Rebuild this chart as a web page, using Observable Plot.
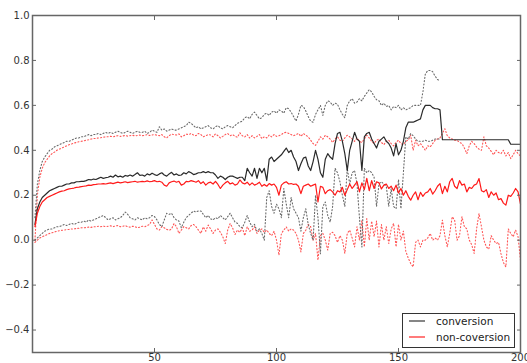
<!DOCTYPE html>
<html>
<head>
<meta charset="utf-8">
<script src="https://cdn.jsdelivr.net/npm/d3@7"></script>
<script src="https://cdn.jsdelivr.net/npm/@observablehq/plot@0.6"></script>
<style>
  html, body { margin: 0; padding: 0; background: #fff; }
  #wrap { position: relative; width: 527px; height: 363px; overflow: hidden; }
  #legend { position: absolute; left: 402px; top: 313px; width: 111px; height: 33px;
    border: 1px solid #333; background: #fff; font-family: "DejaVu Sans", sans-serif; font-size: 10.5px; color: #222; }
  #legend .row { position: absolute; left: 0; height: 14px; display: flex; align-items: center; white-space: nowrap; }
  #legend svg { margin-left: 6px; margin-right: 11px; }
</style>
</head>
<body>
<div id="wrap"><div id="legend"></div></div>
<script>
// x runs 1..N for each series
const xTicks = [50, 100, 150, 200];
const yTicks = [-0.4, -0.2, 0.0, 0.2, 0.4, 0.6, 0.8, 1.0];
const seriesNames = ["conversion", "non-coversion"];

const convMean = [
  0.07, 0.14, 0.17, 0.19, 0.20, 0.21, 0.22, 0.225, 0.23, 0.235,
  0.24, 0.24, 0.245, 0.25, 0.25, 0.255, 0.255, 0.26, 0.26, 0.262,
  0.262, 0.265, 0.27, 0.268, 0.272, 0.27, 0.275, 0.28, 0.275, 0.278,
  0.28, 0.285, 0.28, 0.29, 0.282, 0.285, 0.28, 0.288, 0.285, 0.29,
  0.285, 0.292, 0.3, 0.288, 0.29, 0.285, 0.295, 0.29, 0.298, 0.292,
  0.288, 0.295, 0.3, 0.29, 0.285, 0.295, 0.302, 0.29, 0.295, 0.288,
  0.29, 0.3, 0.295, 0.305, 0.3, 0.292, 0.295, 0.3, 0.3, 0.305,
  0.3, 0.305, 0.3, 0.3, 0.29, 0.275, 0.285, 0.28, 0.27, 0.28,
  0.285, 0.285, 0.28, 0.275, 0.28, 0.28, 0.265, 0.32, 0.3, 0.285,
  0.32, 0.275, 0.32, 0.3, 0.32, 0.265, 0.36, 0.37, 0.35, 0.36,
  0.37, 0.38, 0.395, 0.41, 0.39, 0.4, 0.37, 0.35, 0.31, 0.34,
  0.365, 0.37, 0.33, 0.31, 0.35, 0.40, 0.36, 0.3, 0.28, 0.36,
  0.385, 0.37, 0.36, 0.43, 0.475, 0.48, 0.44, 0.385, 0.31, 0.40,
  0.44, 0.48, 0.45, 0.44, 0.31, 0.46, 0.475, 0.48, 0.45, 0.43,
  0.41, 0.44, 0.45, 0.46, 0.44, 0.43, 0.41, 0.375, 0.43, 0.38,
  0.40, 0.44, 0.50, 0.525, 0.525, 0.525, 0.53, 0.535, 0.54, 0.58,
  0.6, 0.6, 0.6, 0.59, 0.585, 0.585, 0.58, 0.447, 0.447, 0.447,
  0.447, 0.447, 0.447, 0.447, 0.447, 0.447, 0.447, 0.447, 0.447, 0.447,
  0.447, 0.447, 0.447, 0.447, 0.447, 0.447, 0.447, 0.447, 0.447, 0.447,
  0.447, 0.447, 0.447, 0.447, 0.447, 0.427, 0.427, 0.427, 0.427, 0.427
];

const convUpper = [
  0.10, 0.25, 0.31, 0.35, 0.37, 0.385, 0.40, 0.405, 0.415, 0.42,
  0.425, 0.43, 0.435, 0.44, 0.44, 0.445, 0.45, 0.455, 0.455, 0.46,
  0.46, 0.465, 0.47, 0.465, 0.47, 0.47, 0.475, 0.47, 0.475, 0.48,
  0.475, 0.48, 0.475, 0.48, 0.485, 0.48, 0.475, 0.48, 0.485, 0.48,
  0.475, 0.48, 0.485, 0.48, 0.48, 0.485, 0.475, 0.48, 0.49, 0.485,
  0.48, 0.505, 0.49, 0.495, 0.485, 0.49, 0.495, 0.49, 0.49, 0.495,
  0.5, 0.505, 0.51, 0.525, 0.52, 0.51, 0.5, 0.505, 0.495, 0.5,
  0.505, 0.51, 0.5, 0.495, 0.505, 0.51, 0.5, 0.495, 0.505, 0.51,
  0.505, 0.5, 0.51, 0.52, 0.525, 0.53, 0.545, 0.55, 0.54, 0.56,
  0.57, 0.555, 0.54, 0.545, 0.56, 0.565, 0.555, 0.57, 0.575, 0.565,
  0.58, 0.575, 0.565, 0.59, 0.585, 0.57, 0.55, 0.53, 0.56, 0.6,
  0.595, 0.575, 0.55, 0.53, 0.525, 0.56, 0.58, 0.6, 0.555, 0.6,
  0.62, 0.615, 0.6, 0.61, 0.605, 0.58, 0.56, 0.545, 0.6, 0.62,
  0.63, 0.61, 0.615, 0.63, 0.62, 0.64, 0.655, 0.67, 0.66, 0.64,
  0.625, 0.62, 0.6, 0.61, 0.595, 0.6, 0.58, 0.595, 0.59, 0.6,
  0.58, 0.59, 0.58, 0.585, 0.59, 0.6, 0.6, 0.6, 0.6, 0.66,
  0.74, 0.755, 0.755, 0.75, 0.73, 0.715, 0.71
];

const convLower = [
  0.0, 0.01, 0.02, 0.03, 0.04, 0.045, 0.05, 0.05, 0.055, 0.06,
  0.06, 0.065, 0.07, 0.065, 0.07, 0.075, 0.07, 0.075, 0.08, 0.08,
  0.085, 0.08, 0.09, 0.085, 0.09, 0.095, 0.1, 0.105, 0.11, 0.1,
  0.09, 0.095, 0.1, 0.09, 0.095, 0.1, 0.11, 0.125, 0.115, 0.1,
  0.095, 0.09, 0.1, 0.095, 0.09, 0.1, 0.095, 0.1, 0.11, 0.105,
  0.09, 0.07, 0.06, 0.09, 0.12, 0.115, 0.12, 0.1, 0.09, 0.085,
  0.055, 0.08, 0.1, 0.11, 0.12, 0.13, 0.125, 0.13, 0.13, 0.115,
  0.1, 0.11, 0.095, 0.09, 0.1, 0.095, 0.11, 0.1, 0.09, 0.105,
  0.12, 0.1, 0.08, 0.075, 0.06, 0.055, 0.08, 0.11, 0.08, 0.06,
  0.07, 0.04, 0.05, 0.03, 0.0, 0.19, 0.22, 0.15, 0.12, 0.16,
  0.14, 0.1, 0.23, 0.16, 0.1, 0.19, 0.14, 0.12, 0.1, 0.04,
  0.1, 0.14, 0.07, 0.03, 0.0, 0.2, 0.1, -0.06, 0.15, 0.17,
  0.11, 0.08, 0.15, 0.32, 0.3, 0.26, 0.2, 0.15, 0.32, 0.25,
  0.3, 0.31, 0.25, 0.1, -0.03, 0.32, 0.3, 0.31, 0.3, 0.28,
  0.15, 0.25, 0.26, 0.25, 0.24, 0.15, 0.23, 0.15, 0.14, 0.27,
  0.14, 0.3, 0.46, 0.45, 0.475, 0.465, 0.45, 0.44, 0.44, 0.44,
  0.445, 0.44, 0.44, 0.445, 0.45, 0.45, 0.45
];

const nonMean = [
  0.06, 0.12, 0.15, 0.17, 0.18, 0.19, 0.195, 0.2, 0.205, 0.21,
  0.215, 0.218, 0.22, 0.225, 0.228, 0.23, 0.232, 0.235, 0.236, 0.238,
  0.24, 0.242, 0.245, 0.244, 0.247, 0.248, 0.25, 0.25, 0.252, 0.25,
  0.253, 0.255, 0.252, 0.255, 0.258, 0.255, 0.257, 0.26, 0.256, 0.258,
  0.26, 0.262, 0.258, 0.26, 0.262, 0.26, 0.264, 0.26, 0.262, 0.265,
  0.26, 0.262, 0.258, 0.245, 0.24, 0.255, 0.26, 0.263, 0.258, 0.262,
  0.245, 0.25, 0.262, 0.26, 0.265, 0.262, 0.258, 0.265, 0.252, 0.26,
  0.245, 0.255, 0.258, 0.25, 0.262, 0.248, 0.23, 0.245, 0.255, 0.262,
  0.25, 0.255, 0.245, 0.25, 0.268, 0.255, 0.25, 0.258, 0.245, 0.255,
  0.245, 0.25, 0.258, 0.24, 0.248, 0.24, 0.252, 0.245, 0.25, 0.235,
  0.2, 0.245, 0.255, 0.26, 0.25, 0.252, 0.248, 0.25, 0.24, 0.207,
  0.24, 0.245, 0.25, 0.24, 0.245, 0.25, 0.17, 0.24, 0.235, 0.207,
  0.22, 0.225, 0.215, 0.2, 0.22, 0.215, 0.235, 0.2, 0.225, 0.25,
  0.23, 0.245, 0.26, 0.215, 0.255, 0.225, 0.275, 0.22, 0.265, 0.23,
  0.26, 0.255, 0.228, 0.245, 0.25, 0.23, 0.24, 0.22, 0.245, 0.21,
  0.23, 0.2, 0.22, 0.195, 0.178, 0.2, 0.215, 0.18, 0.213, 0.195,
  0.21, 0.215, 0.23, 0.205, 0.22, 0.24, 0.252, 0.207, 0.24, 0.215,
  0.26, 0.275, 0.24, 0.23, 0.265, 0.245, 0.25, 0.215, 0.235, 0.23,
  0.245, 0.25, 0.274, 0.22, 0.215, 0.225, 0.19, 0.215, 0.2, 0.21,
  0.18, 0.185, 0.165, 0.156, 0.2, 0.195, 0.21, 0.23, 0.215, 0.16
];

const nonUpper = [
  0.0, 0.2, 0.28, 0.32, 0.345, 0.36, 0.375, 0.385, 0.392, 0.4,
  0.405, 0.41, 0.415, 0.42, 0.425, 0.428, 0.432, 0.435, 0.438, 0.44,
  0.442, 0.445, 0.447, 0.45, 0.452, 0.453, 0.455, 0.456, 0.458, 0.46,
  0.46, 0.462, 0.46, 0.463, 0.465, 0.462, 0.464, 0.466, 0.463, 0.465,
  0.467, 0.464, 0.466, 0.468, 0.465, 0.467, 0.47, 0.466, 0.468, 0.47,
  0.467, 0.465, 0.47, 0.46, 0.455, 0.465, 0.472, 0.47, 0.468, 0.473,
  0.46, 0.465, 0.472, 0.47, 0.475, 0.468, 0.465, 0.475, 0.47, 0.46,
  0.465, 0.47, 0.468, 0.46, 0.473, 0.465, 0.455, 0.462, 0.47, 0.475,
  0.465, 0.47, 0.462, 0.458, 0.478, 0.465, 0.46, 0.47, 0.455, 0.465,
  0.455, 0.462, 0.47, 0.452, 0.46, 0.455, 0.468, 0.46, 0.47, 0.462,
  0.465, 0.47, 0.478, 0.48, 0.475, 0.47, 0.465, 0.47, 0.475, 0.462,
  0.475, 0.467, 0.46, 0.445, 0.43, 0.422, 0.44, 0.46, 0.45, 0.467,
  0.46, 0.45, 0.435, 0.45, 0.46, 0.445, 0.44, 0.455, 0.467, 0.46,
  0.45, 0.44, 0.455, 0.44, 0.435, 0.45, 0.467, 0.455, 0.44, 0.43,
  0.445, 0.45, 0.435, 0.425, 0.44, 0.445, 0.43, 0.42, 0.435, 0.445,
  0.43, 0.425, 0.44, 0.445, 0.467, 0.4, 0.445, 0.42, 0.43, 0.415,
  0.4, 0.42, 0.415, 0.43, 0.445, 0.45, 0.455, 0.475, 0.496, 0.465,
  0.455, 0.45, 0.445, 0.445, 0.435, 0.43, 0.41, 0.385, 0.42, 0.44,
  0.43, 0.415, 0.405, 0.4, 0.46, 0.42, 0.41, 0.395, 0.38, 0.4,
  0.39, 0.385, 0.4, 0.375, 0.39, 0.363, 0.38, 0.4, 0.385, 0.375
];

const nonLower = [
  -0.01, 0.0, 0.01, 0.015, 0.02, 0.025, 0.03, 0.033, 0.036, 0.04,
  0.042, 0.044, 0.045, 0.047, 0.048, 0.05, 0.05, 0.052, 0.053, 0.055,
  0.055, 0.056, 0.058, 0.057, 0.06, 0.06, 0.062, 0.06, 0.063, 0.06,
  0.062, 0.064, 0.06, 0.063, 0.065, 0.06, 0.062, 0.065, 0.06, 0.058,
  0.062, 0.06, 0.055, 0.058, 0.062, 0.06, 0.065, 0.07, 0.09, 0.07,
  0.05, 0.045, 0.06, 0.055, 0.048, 0.044, 0.05, 0.074, 0.06, 0.03,
  0.045, 0.06, 0.055, 0.05, 0.065, 0.07, 0.06, 0.045, 0.03, 0.059,
  0.04, 0.067, 0.05, 0.03, 0.045, 0.05, 0.035, 0.015, -0.015, 0.045,
  0.074, 0.055, 0.025, 0.045, 0.035, 0.055, 0.02, 0.06, 0.04, 0.045,
  0.06, 0.03, 0.045, 0.05, 0.035, 0.045, 0.03, 0.02, 0.04, 0.0,
  -0.067, 0.03, 0.045, 0.059, 0.04, 0.05, 0.045, 0.03, 0.0, -0.052,
  0.03, 0.044, 0.07, 0.06, 0.0, 0.03, -0.089, 0.02, 0.03, 0.0,
  -0.044, 0.03, 0.035, 0.02, -0.01, 0.02, 0.0, -0.059, 0.03, 0.045,
  0.01, -0.03, 0.06, 0.0, 0.089, -0.03, 0.096, 0.0, 0.085, 0.015,
  0.085, -0.03, 0.07, 0.0, 0.06, -0.015, 0.05, 0.075, -0.03, 0.07,
  0.0, 0.04, -0.05, -0.08, -0.104, -0.119, -0.01, 0.0, -0.03, 0.0,
  0.0, 0.01, 0.03, 0.0, 0.01, 0.0, 0.02, 0.089, 0.02, -0.03,
  0.03, 0.104, 0.09, 0.0, 0.02, 0.104, 0.06, 0.05, 0.0, -0.02,
  -0.059, 0.05, 0.119, 0.06, 0.0, -0.03, -0.04, 0.02, 0.0, -0.015,
  -0.01, -0.06, -0.1, -0.119, 0.05, 0.03, 0.015, 0.045, 0.015, -0.09
];

const toRows = arr => arr.map((v, i) => ({x: i + 1, y: v}));

const blackSolid = "#2a2a2a", blackDot = "#6a6a6a";
const redSolid = "#ff1a1a", redDot = "#ff5555";
const dotted = "1.1,2.2";

const chart = Plot.plot({
  width: 527, height: 363,
  marginLeft: 32, marginTop: 15, marginRight: 7, marginBottom: 11,
  x: {domain: [0, 200], label: null},
  y: {domain: [-0.5, 1.0], label: null},
  style: {fontFamily: "DejaVu Sans, sans-serif", fontSize: "10px", color: "#333", background: "#fff"},
  marks: [
    Plot.line(toRows(nonUpper), {x: "x", y: "y", stroke: redDot, strokeWidth: 1.1, strokeDasharray: dotted}),
    Plot.line(toRows(nonLower), {x: "x", y: "y", stroke: redDot, strokeWidth: 1.1, strokeDasharray: dotted}),
    Plot.line(toRows(convUpper), {x: "x", y: "y", stroke: blackDot, strokeWidth: 1.1, strokeDasharray: dotted}),
    Plot.line(toRows(convLower), {x: "x", y: "y", stroke: blackDot, strokeWidth: 1.1, strokeDasharray: dotted}),
    Plot.line(toRows(convMean), {x: "x", y: "y", stroke: blackSolid, strokeWidth: 1.2}),
    Plot.line(toRows(nonMean), {x: "x", y: "y", stroke: redSolid, strokeWidth: 1.2}),
    Plot.frame({stroke: "#666", strokeWidth: 1.5}),
    Plot.axisY(yTicks, {anchor: "left", tickSize: 0, tickPadding: 3, tickFormat: d3.format(".1f"), label: null}),
    Plot.axisY(yTicks, {anchor: "left", tickSize: -4, tickFormat: () => "", label: null, stroke: "#666"}),
    Plot.axisY(yTicks, {anchor: "right", tickSize: -4, tickFormat: () => "", label: null, stroke: "#666"}),
    Plot.axisX(xTicks, {anchor: "bottom", tickSize: 0, tickPadding: 1, label: null}),
    Plot.axisX(xTicks, {anchor: "bottom", tickSize: -4, tickFormat: () => "", label: null, stroke: "#666"}),
    Plot.axisX(xTicks, {anchor: "top", tickSize: -4, tickFormat: () => "", label: null, stroke: "#666"})
  ]
});
document.getElementById("wrap").prepend(chart);

// legend
const legend = document.getElementById("legend");
[[seriesNames[0], "#444", 0], [seriesNames[1], "#ff3333", 16]].forEach(([name, col, top]) => {
  const row = document.createElement("div");
  row.className = "row";
  row.style.top = top + "px";
  row.innerHTML = `<svg width="16" height="4"><line x1="0" y1="2" x2="16" y2="2" stroke="${col}" stroke-width="1.3"/></svg><span>${name}</span>`;
  legend.appendChild(row);
});
</script>
</body>
</html>
